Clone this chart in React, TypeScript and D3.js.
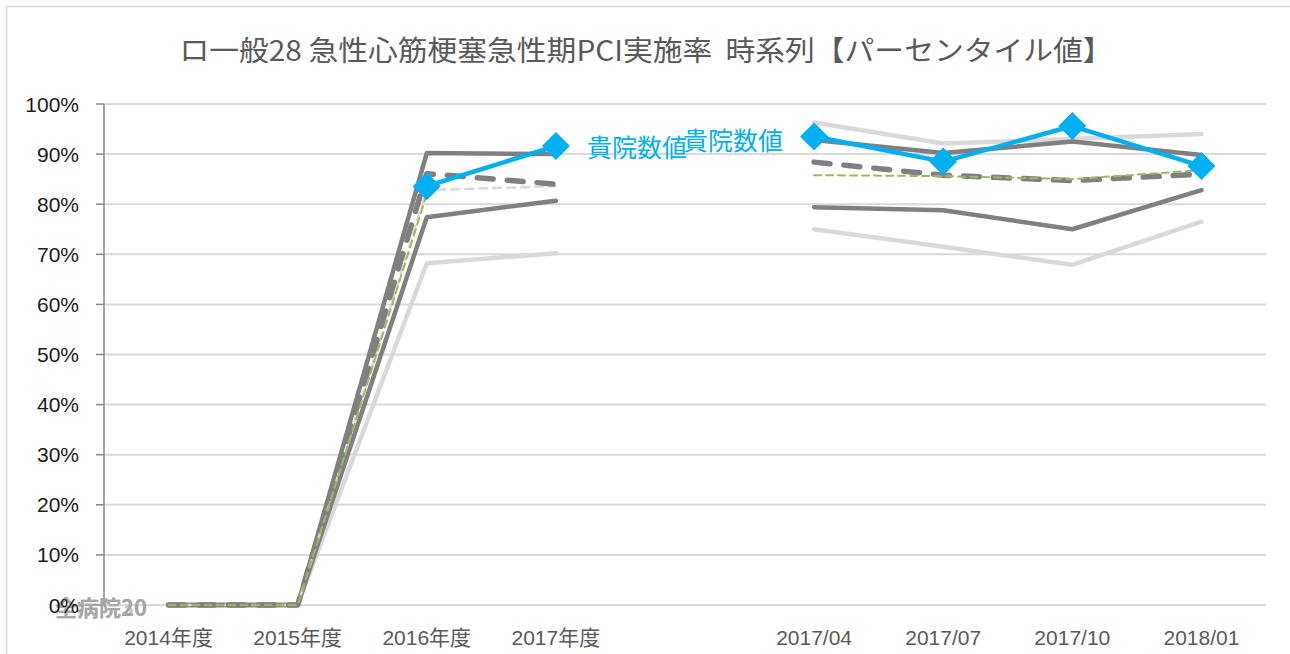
import React from "react";
import * as d3 from "d3";

const categories = ["2014年度", "2015年度", "2016年度", "2017年度", "", "2017/04", "2017/07", "2017/10", "2018/01"];
const yTicks = [0, 0.1, 0.2, 0.3, 0.4, 0.5, 0.6, 0.7, 0.8, 0.9, 1.0];

type V = number | null;
const lightTop: V[] = [null, null, null, null, null, 0.963, 0.921, 0.93, 0.94];
const darkTop: V[] = [0, 0, 0.902, 0.9, null, 0.928, 0.902, 0.925, 0.898];
const darkDashed: V[] = [0, 0, 0.861, 0.84, null, 0.884, 0.858, 0.847, 0.86];
const lightDashed: V[] = [0, 0, 0.828, 0.836, null, null, null, null, null];
const greenDashed: V[] = [0, 0, 0.82, null, null, 0.858, 0.856, 0.85, 0.868];
const darkLow: V[] = [0, 0, 0.774, 0.807, null, 0.794, 0.788, 0.75, 0.828];
const lightLow: V[] = [0, 0, 0.682, 0.702, null, 0.75, 0.715, 0.679, 0.765];
const hospital: V[] = [null, null, 0.836, 0.916, null, 0.935, 0.885, 0.956, 0.876];
const hospitalLabel = "貴院数値";
const title = "ロ一般28 急性心筋梗塞急性期PCI実施率\u00a0\u00a0時系列【パーセンタイル値】";

const W = 1290, H = 654;
const left = 104, right = 1266, top = 104, bottom = 605;

export default function App() {
  const x = d3.scaleBand<number>().domain(d3.range(categories.length)).range([left, right]);
  const cx = (i: number) => (x(i) as number) + x.bandwidth() / 2;
  const y = d3.scaleLinear().domain([0, 1]).range([bottom, top]);
  const line = d3
    .line<V>()
    .defined((d) => d !== null)
    .x((_, i) => cx(i))
    .y((d) => y(d as number));

  const series = [
    { data: lightLow, stroke: "#d9d9d9", w: 4.5, dash: undefined },
    { data: darkLow, stroke: "#808080", w: 4.5, dash: undefined },
    { data: lightTop, stroke: "#d9d9d9", w: 4.5, dash: undefined },
    { data: darkTop, stroke: "#808080", w: 4.5, dash: undefined },
    { data: lightDashed, stroke: "#d9d9d9", w: 2.5, dash: "8 6" },
    { data: darkDashed, stroke: "#808080", w: 5.5, dash: "16 14" },
    { data: greenDashed, stroke: "#9bbb59", w: 2, dash: "7 5" },
  ];

  const diamond = (px: number, py: number, r: number) =>
    `M${px},${py - r}L${px + r},${py}L${px},${py + r}L${px - r},${py}Z`;

  return (
    <svg width={W} height={H} style={{ position: "absolute", left: 0, top: 0, background: "#fff" }}
      fontFamily="'Liberation Sans', 'Noto Sans CJK JP', sans-serif">
      <rect x={6.5} y={6.5} width={1300} height={700} fill="#fff" stroke="#d9d9d9" strokeWidth={1.5} />
      <text x={646} y={49} textAnchor="middle" dominantBaseline="central" fontSize={28}
        fill="#595959" fontFamily="'Noto Sans CJK JP', sans-serif" textLength={933} lengthAdjust="spacingAndGlyphs">
        {title}
      </text>
      {yTicks.map((t) => (
        <g key={t}>
          <line x1={left} x2={right} y1={y(t)} y2={y(t)} stroke="#d9d9d9" strokeWidth={2} />
          <line x1={left - 8} x2={left} y1={y(t)} y2={y(t)} stroke="#868686" strokeWidth={1.5} />
          {t > 0 && (
            <text x={79} y={y(t)} textAnchor="end" dominantBaseline="central" fontSize={21} fill="#1a1a1a">
              {`${Math.round(t * 100)}%`}
            </text>
          )}
        </g>
      ))}
      <line x1={left} x2={left} y1={top} y2={bottom} stroke="#868686" strokeWidth={1.5} />
      {categories.map((c, i) => (
        <text key={i} x={cx(i)} y={637} textAnchor="middle" dominantBaseline="central" fontSize={21} fill="#595959">
          {c}
        </text>
      ))}
      <g fill="#a6a6a6" fontSize={22} fontWeight="bold" fontFamily="'Noto Sans CJK JP', sans-serif">
        <text x={55} y={606} dominantBaseline="central">全病院20</text>
        <text x={55} y={606} dominantBaseline="central" opacity={0.6}>全病院30</text>
      </g>
      <text x={79} y={y(0)} textAnchor="end" dominantBaseline="central" fontSize={21} fill="#1a1a1a">0%</text>
      {series.map((s, k) => (
        <path key={k} d={line(s.data) || ""} fill="none" stroke={s.stroke} strokeWidth={s.w}
          strokeDasharray={s.dash} strokeLinejoin="round" strokeLinecap="round" />
      ))}
      <path d={line(hospital) || ""} fill="none" stroke="#00b0f0" strokeWidth={4.5} strokeLinejoin="round" />
      {hospital.map((v, i) =>
        v === null ? null : <path key={i} d={diamond(cx(i), y(v), 14)} fill="#00b0f0" />
      )}
      <text x={cx(3) + 31} y={y(hospital[3] as number)} dominantBaseline="central" fontSize={25}
        fill="#00b0f0" fontFamily="'Noto Sans CJK JP', sans-serif">{hospitalLabel}</text>
      <text x={cx(5) - 31} y={y(hospital[5] as number) + 2} textAnchor="end" dominantBaseline="central" fontSize={25}
        fill="#00b0f0" fontFamily="'Noto Sans CJK JP', sans-serif">{hospitalLabel}</text>
    </svg>
  );
}
